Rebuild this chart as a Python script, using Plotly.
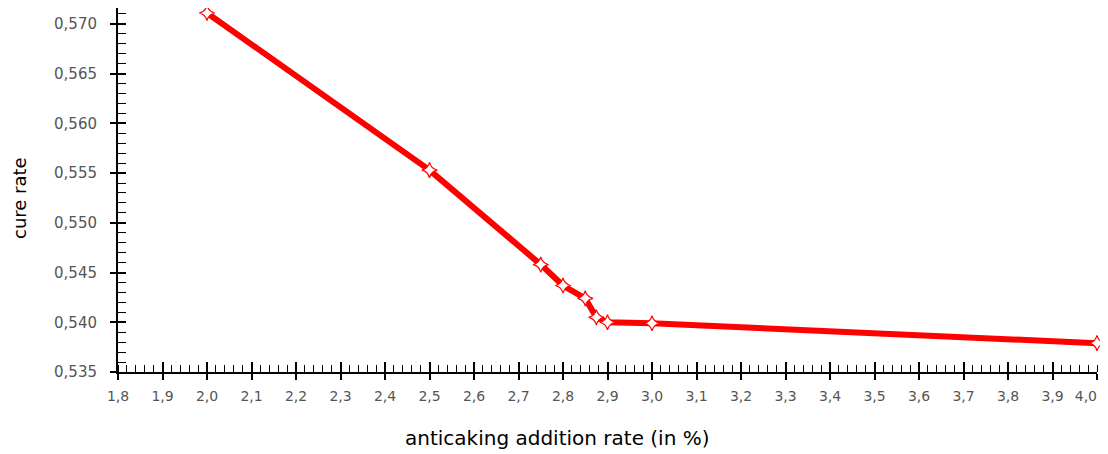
import plotly.graph_objects as go

# data
rate = [2.0, 2.5, 2.75, 2.8, 2.85, 2.875, 2.9, 3.0, 4.0]
cake = [0.5711, 0.5553, 0.5458, 0.5437, 0.5424, 0.5405, 0.5400, 0.5399, 0.5379]
x_ticks = [1.8, 1.9, 2.0, 2.1, 2.2, 2.3, 2.4, 2.5, 2.6, 2.7, 2.8, 2.9, 3.0,
           3.1, 3.2, 3.3, 3.4, 3.5, 3.6, 3.7, 3.8, 3.9, 4.0]
y_ticks = [0.535, 0.540, 0.545, 0.550, 0.555, 0.560, 0.565, 0.570]

XR = [1.8, 4.0]
YR = [0.535, 0.5716]

# tick texts with decimal comma; last label nudged left so it stays in view
x_text = [f"{v:.1f}".replace(".", ",") for v in x_ticks]
x_text[-1] = x_text[-1] + "\u00a0" * 5

# the page body has an 8px margin: figure is sized/offset to compensate
W, H = 1108, 446
L, R, T, B = 110, 19, 0, 82
PW = W - L - R
PH = H - T - B

fig = go.Figure()
fig.add_trace(go.Scatter(
    x=rate, y=cake, mode="lines+markers",
    line=dict(color="#ff0000", width=6),
    marker=dict(symbol="star-diamond", size=11, color="white",
                line=dict(color="#ff0000", width=1.2)),
    cliponaxis=False, showlegend=False,
))
# invisible trace on overlay axes
fig.add_trace(go.Scatter(x=[XR[0]], y=[YR[0]], xaxis="x2", yaxis="y2",
                         mode="markers", marker=dict(opacity=0),
                         showlegend=False, hoverinfo="skip"))

tickfont = dict(family="DejaVu Sans, sans-serif", size=15, color="#555555")
xtickfont = dict(family="DejaVu Sans, sans-serif", size=14, color="#555555")

fig.update_layout(
    width=W, height=H,
    margin=dict(l=L, r=R, t=T, b=B, autoexpand=False),
    paper_bgcolor="white", plot_bgcolor="white",
    separators=",.",
    xaxis=dict(range=XR, tickvals=x_ticks, ticktext=x_text,
               showgrid=False, zeroline=False,
               showline=True, linecolor="black", linewidth=2,
               ticks="outside", ticklen=6, tickwidth=1.5, tickcolor="black",
               ticklabelstandoff=4, tickfont=xtickfont,
               ticklabeloverflow="allow",
               minor=dict(dtick=0.02, ticks="inside", ticklen=7,
                          tickwidth=1.2, tickcolor="black")),
    yaxis=dict(range=YR, tickvals=y_ticks, tickformat=".3f",
               showgrid=False, zeroline=False,
               showline=True, linecolor="black", linewidth=2,
               ticks="outside", ticklen=6, tickwidth=1.5, tickcolor="black",
               ticklabelstandoff=10, tickfont=tickfont,
               ticklabeloverflow="allow",
               minor=dict(dtick=0.001, ticks="inside", ticklen=8,
                          tickwidth=1.2, tickcolor="black")),
    xaxis2=dict(range=XR, overlaying="x", tickvals=x_ticks,
                showticklabels=False, showgrid=False, zeroline=False,
                showline=False, ticks="inside", ticklen=10, tickwidth=1.5,
                tickcolor="black", side="bottom"),
    yaxis2=dict(range=YR, overlaying="y", tickvals=y_ticks,
                showticklabels=False, showgrid=False, zeroline=False,
                showline=False, ticks="inside", ticklen=8, tickwidth=1.5,
                tickcolor="black", side="left"),
    annotations=[
        dict(text="anticaking addition rate (in %)", xref="paper", yref="paper",
             x=(557 - 8 - L) / PW, y=-(438 - 372) / PH,
             xanchor="center", yanchor="middle", showarrow=False,
             font=dict(family="DejaVu Sans, sans-serif", size=20, color="black")),
        dict(text="cure rate", xref="paper", yref="paper",
             x=-(L - (20 - 8)) / PW, y=(372 - 198) / PH, textangle=-90,
             xanchor="center", yanchor="middle", showarrow=False,
             font=dict(family="DejaVu Sans, sans-serif", size=18, color="black")),
    ],
)

fig.write_html("out.html")
